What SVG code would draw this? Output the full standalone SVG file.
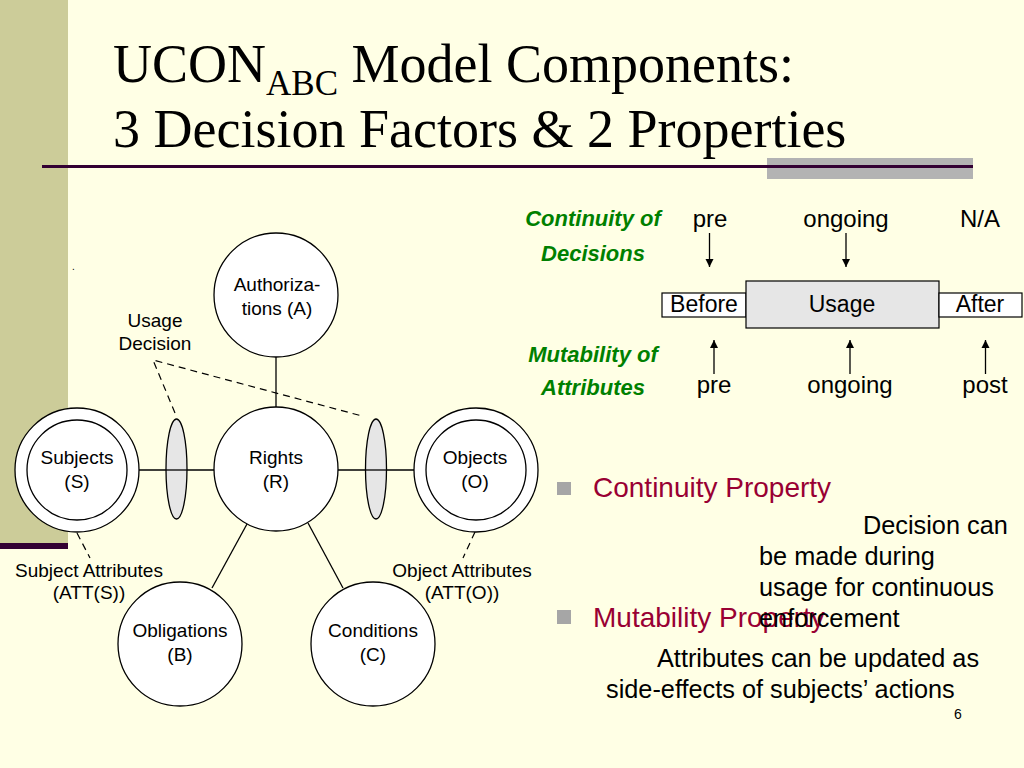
<svg xmlns="http://www.w3.org/2000/svg" width="1024" height="768" viewBox="0 0 1024 768">
<defs>
<style>
.bg{fill:#FFFFE5}
.ttl{font-family:"Liberation Serif","Times New Roman",serif;fill:#000}
.t{font-family:"Liberation Sans",Arial,sans-serif;fill:#000}
.n{font-size:19px;text-anchor:middle}
.g{font-family:"Liberation Sans",Arial,sans-serif;font-size:22px;font-weight:bold;font-style:italic;fill:#008000;text-anchor:middle}
.tl{font-size:24px;text-anchor:middle}
.bl{font-size:23px;text-anchor:middle}
.prop{font-family:"Liberation Sans",Arial,sans-serif;font-size:28px;fill:#990033}
.desc{font-size:25.3px}
.circ{fill:#FFFFFF;stroke:#000;stroke-width:1.3}
.ell{fill:#E6E6E6;stroke:#000;stroke-width:1.3}
.ln{stroke:#000;stroke-width:1.3;fill:none}
.dash{stroke:#000;stroke-width:1.2;fill:none;stroke-dasharray:7 5}
.box{fill:#FFFFFF;stroke:#000;stroke-width:1.2}
.ubox{fill:#E6E6E6;stroke:#000;stroke-width:1.2}
.bul{fill:#A6A6A6}
</style>
<marker id="ah" viewBox="0 0 10 10" refX="10" refY="5" markerWidth="8" markerHeight="10" markerUnits="userSpaceOnUse" orient="auto">
<path d="M0,0 L10,5 L0,10 z" fill="#000"/>
</marker>
</defs>

<rect class="bg" x="0" y="0" width="1024" height="768"/>
<g id="sidebar">
<rect x="0" y="0" width="68" height="544" fill="#CCCC99"/>
<rect x="0" y="543" width="68" height="6" fill="#330033"/>
</g>

<g id="title">
<rect x="767" y="158" width="206" height="21" fill="#B3B3B3"/>
<rect x="42" y="165" width="931" height="3" fill="#330033"/>
<text class="ttl" x="113" y="82" font-size="54">UCON<tspan font-size="35" dy="13">ABC</tspan><tspan dy="-13"> Model Components:</tspan></text>
<text class="ttl" x="113" y="147" font-size="54">3 Decision Factors &amp; 2 Properties</text>
</g>

<text class="t" x="72" y="270" font-size="10">.</text>

<g id="connectors">
<line class="ln" x1="276" y1="357" x2="276" y2="407"/>
<line class="ln" x1="139" y1="470" x2="214" y2="470"/>
<line class="ln" x1="338" y1="470" x2="414" y2="470"/>
<line class="ln" x1="247" y1="524" x2="212" y2="588"/>
<line class="ln" x1="308" y1="523" x2="343" y2="588"/>
<polyline class="dash" points="175,413 153,360 362,416"/>
<line class="dash" x1="77" y1="533" x2="90" y2="558"/>
<line class="dash" x1="475" y1="532" x2="463" y2="558"/>
</g>

<g id="ellipse-left">
<ellipse class="ell" cx="176.5" cy="469" rx="10.5" ry="50"/>
<line class="ln" x1="166" y1="470" x2="187" y2="470"/>
</g>
<g id="ellipse-right">
<ellipse class="ell" cx="376" cy="469" rx="10.5" ry="50"/>
<line class="ln" x1="365.5" y1="470" x2="386.5" y2="470"/>
</g>

<g id="node-authorizations">
<circle class="circ" cx="276" cy="295" r="62"/>
<text class="t n" x="277" y="291">Authoriza-</text>
<text class="t n" x="277" y="315">tions (A)</text>
</g>
<g id="node-rights">
<circle class="circ" cx="276" cy="469" r="62"/>
<text class="t n" x="276" y="464">Rights</text>
<text class="t n" x="276" y="488">(R)</text>
</g>
<g id="node-subjects">
<circle class="circ" cx="77" cy="470" r="62"/>
<circle class="circ" cx="77" cy="470" r="50"/>
<text class="t n" x="77" y="464">Subjects</text>
<text class="t n" x="77" y="488">(S)</text>
</g>
<g id="node-objects">
<circle class="circ" cx="476" cy="470" r="62"/>
<circle class="circ" cx="476" cy="470" r="50"/>
<text class="t n" x="475" y="464">Objects</text>
<text class="t n" x="475" y="488">(O)</text>
</g>
<g id="node-obligations">
<circle class="circ" cx="180" cy="644" r="62"/>
<text class="t n" x="180" y="637">Obligations</text>
<text class="t n" x="180" y="661">(B)</text>
</g>
<g id="node-conditions">
<circle class="circ" cx="373" cy="644" r="62"/>
<text class="t n" x="373" y="637">Conditions</text>
<text class="t n" x="373" y="661">(C)</text>
</g>

<g id="label-usage-decision">
<text class="t n" x="155" y="327">Usage</text>
<text class="t n" x="155" y="350">Decision</text>
</g>
<g id="label-subject-attributes">
<text class="t n" x="89" y="577">Subject Attributes</text>
<text class="t n" x="89" y="599">(ATT(S))</text>
</g>
<g id="label-object-attributes">
<text class="t n" x="462" y="577">Object Attributes</text>
<text class="t n" x="462" y="599">(ATT(O))</text>
</g>

<g id="timeline">
<text class="g" x="593" y="226">Continuity of</text>
<text class="g" x="593" y="261">Decisions</text>
<text class="g" x="593" y="362">Mutability of</text>
<text class="g" x="593" y="395">Attributes</text>
<text class="t tl" x="710" y="227">pre</text>
<text class="t tl" x="846" y="227">ongoing</text>
<text class="t tl" x="980" y="227">N/A</text>
<g id="arrows">
<line class="ln" x1="709.5" y1="233" x2="709.5" y2="267" marker-end="url(#ah)"/>
<line class="ln" x1="846" y1="233" x2="846" y2="267" marker-end="url(#ah)"/>
<line class="ln" x1="714" y1="374" x2="714" y2="340" marker-end="url(#ah)"/>
<line class="ln" x1="850" y1="374" x2="850" y2="340" marker-end="url(#ah)"/>
<line class="ln" x1="985.5" y1="374" x2="985.5" y2="340" marker-end="url(#ah)"/>
</g>
<g id="box-before">
<rect class="box" x="662" y="293" width="84" height="24"/>
<text class="t bl" x="704" y="312">Before</text>
</g>
<g id="box-usage">
<rect class="ubox" x="746" y="281" width="193" height="47"/>
<text class="t bl" x="842" y="312">Usage</text>
</g>
<g id="box-after">
<rect class="box" x="939" y="293" width="83" height="24"/>
<text class="t bl" x="980" y="312">After</text>
</g>
<text class="t tl" x="714" y="393">pre</text>
<text class="t tl" x="850" y="393">ongoing</text>
<text class="t tl" x="985" y="393">post</text>
</g>

<g id="bullets">
<rect class="bul" x="557" y="482" width="14" height="13"/>
<text class="prop" x="593" y="497">Continuity Property</text>
<text class="t desc" x="863" y="534">Decision can</text>
<text class="t desc" x="759" y="565">be made during</text>
<text class="t desc" x="759" y="596">usage for continuous</text>
<rect class="bul" x="557" y="610" width="14" height="14"/>
<text class="prop" x="593" y="627">Mutability Property</text>
<text class="t desc" x="759" y="627">enforcement</text>
<text class="t desc" x="657" y="667">Attributes can be updated as</text>
<text class="t desc" x="606" y="698">side-effects of subjects’ actions</text>
<text class="t" x="958" y="719" font-size="14" text-anchor="middle">6</text>
</g>
</svg>
